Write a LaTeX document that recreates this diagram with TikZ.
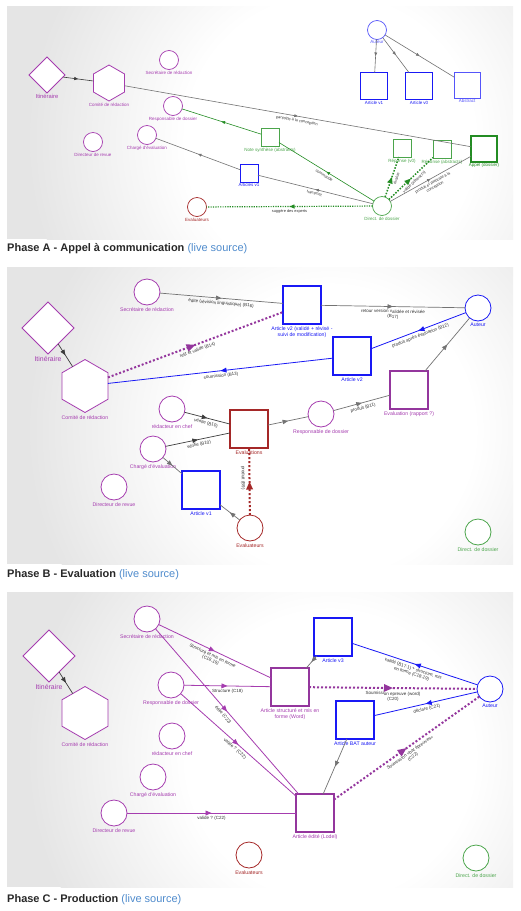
\documentclass[tikz,border=0pt]{standalone}
\usepackage{fontspec}
\setmainfont{Liberation Sans}
\usetikzlibrary{shapes.geometric,decorations.markings,arrows.meta}

\definecolor{actor}{RGB}{165,60,175}
\definecolor{docblue}{RGB}{25,25,245}
\definecolor{softblue}{RGB}{85,85,250}
\definecolor{evalred}{RGB}{165,40,40}
\definecolor{dirgreen}{RGB}{75,165,75}
\definecolor{deepgreen}{RGB}{35,140,35}
\definecolor{linkgray}{RGB}{115,115,115}
\definecolor{darkarrow}{RGB}{60,60,60}
\definecolor{captext}{RGB}{40,40,40}
\definecolor{srclink}{RGB}{80,140,205}
\definecolor{panelgray}{gray}{0.90}
\definecolor{elabel}{RGB}{50,50,50}

\pgfdeclareradialshading{panelglow}{\pgfpoint{0bp}{0bp}}{%
  color(0bp)=(white); color(12bp)=(white); color(25bp)=(panelgray); color(50bp)=(panelgray)}

\tikzset{
  nd/.style={draw, fill=white, inner sep=0pt, outer sep=0pt},
  ringA/.style={nd, circle, minimum size=19pt, line width=0.7pt},
  ringB/.style={nd, circle, minimum size=26pt, line width=0.8pt},
  boxx/.style={nd, rectangle, minimum size=#1},
  gem/.style={nd, diamond, aspect=1, minimum size=#1, draw=actor, line width=0.8pt},
  hexa/.style={nd, regular polygon, regular polygon sides=6, shape border rotate=30,
    minimum size=#1, draw=actor, line width=0.8pt},
  tagA/.style={font=\fontsize{4.5}{5.2}\selectfont, inner sep=0.3pt, label distance=1.2pt, align=center},
  tagB/.style={font=\fontsize{5.2}{6}\selectfont, inner sep=0.3pt, label distance=1.8pt, align=center},
  etA/.style={font=\fontsize{3.9}{4.4}\selectfont, text=elabel, sloped, below, inner sep=2.5pt, align=center, midway},
  etB/.style={font=\fontsize{4.5}{5}\selectfont, text=elabel, sloped, below, inner sep=2.8pt, align=center, midway},
  lnk/.style={draw=linkgray, line width=#1}, lnk/.default=0.6pt,
  dotline/.style={line width=#1, dash pattern=on #1 off #1},
  midtip/.style={postaction={decorate, decoration={markings,
    mark=at position 0.5 with {\arrow{Triangle[length=#1, width'=0pt 0.8]}}}}},
  midtip/.default=4pt,
  caption/.style={anchor=base west, inner sep=0pt, font=\fontsize{11}{13}\selectfont, text=captext},
}

\begin{document}
\begin{tikzpicture}[x=1pt,y=-1pt]
\useasboundingbox (0,0) rectangle (521,911);
\fill[white] (0,0) rectangle (521,911);

% panel backgrounds: light grey with a soft white glow
\foreach \ptop/\pbot/\cy in {6/239/140, 267/564/430, 592/887/755} {
  \begin{scope}
    \clip (7,\ptop) rectangle (513,\pbot);
    \fill[panelgray] (7,\ptop) rectangle (513,\pbot);
    \shade[shading=panelglow] (330,\cy) circle (300);
  \end{scope}
}

% ================= Phase A =================
\node[gem=36pt, label={[tagA, text=actor, font=\fontsize{5.8}{6.5}\selectfont]below:Itinéraire}] (aIti) at (47,75) {};
\node[hexa=36pt, label={[tagA, text=actor, label distance=2pt]below:Comité de rédaction}] (aCom) at (109,83) {};
\node[ringA, draw=actor, label={[tagA, text=actor]below:Secrétaire de rédaction}] (aSec) at (169,60) {};
\node[ringA, draw=actor, label={[tagA, text=actor]below:Responsable de dossier}] (aRes) at (173,106) {};
\node[ringA, draw=actor, label={[tagA, text=actor]below:Chargé d'évaluation}] (aCha) at (147,135) {};
\node[ringA, draw=actor, label={[tagA, text=actor]below:Directeur de revue}] (aDir) at (93,142) {};
\node[ringA, draw=evalred, label={[tagA, text=evalred]below:Evaluateurs}] (aEva) at (197,207) {};
\node[boxx=18pt, draw=docblue, line width=0.8pt, label={[tagA, text=docblue]below:Articles v1}] (aArt) at (249,173) {};
\node[ringA, draw=softblue, label={[tagA, text=softblue, label distance=0.3pt]below:Auteur}] (aAut) at (377,30) {};
\node[boxx=27pt, draw=docblue, line width=1.5pt, label={[tagA, text=docblue]below:Article v1}] (aV1) at (374,86) {};
\node[boxx=27pt, draw=docblue, line width=1.5pt, label={[tagA, text=docblue]below:Article v0}] (aV0) at (419,86) {};
\node[boxx=26pt, draw=softblue, line width=0.9pt, label={[tagA, text=softblue]below:Abstract}] (aAbs) at (467,85) {};
\node[boxx=18pt, draw=dirgreen, line width=0.7pt, label={[tagA, text=dirgreen]below:Note synthèse (abstracts)}] (aNote) at (270,137) {};
\node[boxx=18pt, draw=dirgreen, line width=0.7pt, label={[tagA, text=dirgreen]below:Réponse (v0)}] (aRv0) at (402,148) {};
\node[boxx=18pt, draw=dirgreen, line width=0.7pt, label={[tagA, text=dirgreen]below:Réponse (abstracts)}] (aRab) at (442,149) {};
\node[boxx=26pt, draw=deepgreen, line width=1.5pt, label={[tagA, text=deepgreen]below:Appel (dossier)}] (aApp) at (484,149) {};
\node[ringA, draw=dirgreen, label={[tagA, text=dirgreen]below:Direct. de dossier}] (aDd) at (382,206) {};

\draw[lnk, draw=darkarrow, midtip=4pt] (aIti) -- (aCom);
\draw[lnk, midtip=3.5pt] (aCom) -- node[etA]{participe à la conception} (aApp);
\draw[draw=deepgreen, line width=0.6pt, midtip=3.5pt] (aNote) -- (aRes);
\draw[draw=deepgreen, line width=0.6pt, midtip=3.5pt] (aDd) -- node[etA]{commande} (aNote);
\draw[lnk, midtip=3.5pt] (aArt) -- (aCha);
\draw[lnk, midtip=3.5pt] (aDd) -- node[etA]{transmet} (aArt);
\draw[draw=deepgreen, dotline=1.2pt, midtip=5pt] (aDd) -- node[etA]{suggère des experts} (aEva);
\draw[draw=deepgreen, dotline=1.5pt, midtip=6.5pt] (aDd) -- node[etA]{évalue} (aRv0);
\draw[draw=deepgreen, dotline=1.5pt, midtip=6.5pt] (aDd) -- node[etA]{valide (abstracts)} (aRab);
\draw[lnk, midtip=3.5pt] (aDd) -- node[etA]{produit et participe à la\\conception} (aApp);
\draw[lnk, midtip=3.5pt] (aAut) -- (aV1);
\draw[lnk, midtip=3.5pt] (aAut) -- (aV0);
\draw[lnk, midtip=3.5pt] (aAut) -- (aAbs);

\node[caption] (capA) at (7,251) {\textbf{Phase A - Appel à communication} \textcolor{srclink}{(live source)}};

% ================= Phase B =================
\node[gem=52pt, label={[tagB, text=actor, font=\fontsize{6.9}{7.5}\selectfont]below:Itinéraire}] (bIti) at (48,328) {};
\node[hexa=53pt, label={[tagB, text=actor, label distance=2.5pt]below:Comité de rédaction}] (bCom) at (85,386) {};
\node[ringB, draw=actor, label={[tagB, text=actor]below:Secrétaire de rédaction}] (bSec) at (147,292) {};
\node[ringB, draw=actor, label={[tagB, text=actor]below:rédacteur en chef}] (bRed) at (172,409) {};
\node[ringB, draw=actor, label={[tagB, text=actor]below:Chargé d'évaluation}] (bCha) at (153,449) {};
\node[ringB, draw=actor, label={[tagB, text=actor]below:Directeur de revue}] (bDir) at (114,487) {};
\node[boxx=38pt, draw=docblue, line width=1.7pt, label={[tagB, text=docblue]below:Article v1}] (bArt) at (201,490) {};
\node[boxx=38pt, draw=evalred, line width=1.7pt, label={[tagB, text=evalred]below:Evaluations}] (bEvs) at (249,429) {};
\node[ringB, draw=evalred, label={[tagB, text=evalred]below:Evaluateurs}] (bEvr) at (250,528) {};
\node[ringB, draw=actor, label={[tagB, text=actor]below:Responsable de dossier}] (bRes) at (321,414) {};
\node[boxx=38pt, draw=actor!90!black, line width=1.7pt, label={[tagB, text=actor]below:Evaluation (rapport ?)}] (bRap) at (409,390) {};
\node[ringB, draw=docblue, label={[tagB, text=docblue]below:Auteur}] (bAut) at (478,308) {};
\node[boxx=38pt, draw=docblue, line width=1.7pt, label={[tagB, text=docblue]below:Article v2}] (bV2) at (352,356) {};
\node[boxx=38pt, draw=docblue, line width=1.7pt, label={[tagB, text=docblue]below:Article v2 (validé + révisé -\\suivi de modification)}] (bV2v) at (302,305) {};
\node[ringB, draw=dirgreen, label={[tagB, text=dirgreen]below:Direct. de dossier}] (bDd) at (478,532) {};

\draw[lnk=0.7pt, draw=darkarrow, midtip=5.5pt] (bIti) -- (bCom);
\draw[lnk=0.7pt, midtip=5.5pt] (bSec) -- node[etB]{édite (révision linguistique) (B16)} (bV2v);
\draw[lnk=0.7pt, midtip=5.5pt] (bV2v) -- node[etB]{retour version validée et révisée\\(B17)} (bAut);
\draw[draw=actor!90!black, dotline=2pt, midtip=9pt] (bCom) -- node[etB]{relit et valide (B14)} (bV2v);
\draw[draw=docblue, line width=0.8pt, midtip=6pt] (bAut) -- node[etB]{produit après évaluation (B12)} (bV2);
\draw[draw=docblue, line width=0.8pt, midtip=6pt] (bV2) -- node[etB]{soumission (B13)} (bCom);
\draw[lnk=0.7pt, draw=darkarrow, midtip=5.5pt] (bRed) -- node[etB]{vérifie (B10)} (bEvs);
\draw[lnk=0.7pt, draw=darkarrow, midtip=5.5pt] (bCha) -- node[etB]{vérifie (B10)} (bEvs);
\draw[lnk=0.7pt, midtip=5.5pt] (bCha) -- (bArt);
\draw[lnk=0.7pt, midtip=5.5pt] (bEvr) -- (bArt);
\draw[draw=evalred, dotline=2pt, midtip=8pt] (bEvr) -- (bEvs);
\node[font=\fontsize{4.5}{5}\selectfont, text=elabel, rotate=-90, inner sep=0pt] (bLblB9) at (243,478) {produit (B9)};
\draw[lnk=0.7pt, midtip=5.5pt] (bEvs) -- (bRes);
\draw[lnk=0.7pt, midtip=5.5pt] (bRes) -- node[etB]{produit (B11)} (bRap);
\draw[lnk=0.7pt, midtip=5.5pt] (bRap) -- (bAut);

\node[caption] (capB) at (7,577) {\textbf{Phase B - Evaluation} \textcolor{srclink}{(live source)}};

% ================= Phase C =================
\node[gem=52pt, label={[tagB, text=actor, font=\fontsize{6.9}{7.5}\selectfont]below:Itinéraire}] (cIti) at (49,656) {};
\node[hexa=53pt, label={[tagB, text=actor, label distance=2.5pt]below:Comité de rédaction}] (cCom) at (85,713) {};
\node[ringB, draw=actor, label={[tagB, text=actor]below:Secrétaire de rédaction}] (cSec) at (147,619) {};
\node[ringB, draw=actor, label={[tagB, text=actor]below:Responsable de dossier}] (cRes) at (171,685) {};
\node[ringB, draw=actor, label={[tagB, text=actor]below:rédacteur en chef}] (cRed) at (172,736) {};
\node[ringB, draw=actor, label={[tagB, text=actor]below:Chargé d'évaluation}] (cCha) at (153,777) {};
\node[ringB, draw=actor, label={[tagB, text=actor]below:Directeur de revue}] (cDir) at (114,813) {};
\node[ringB, draw=evalred, label={[tagB, text=evalred]below:Evaluateurs}] (cEvr) at (249,855) {};
\node[boxx=38pt, draw=actor!90!black, line width=1.7pt, label={[tagB, text=actor]below:Article structuré et mis en\\forme (Word)}] (cStr) at (290,687) {};
\node[boxx=38pt, draw=docblue, line width=1.7pt, label={[tagB, text=docblue]below:Article v3}] (cV3) at (333,637) {};
\node[boxx=38pt, draw=docblue, line width=1.7pt, label={[tagB, text=docblue]below:Article BAT auteur}] (cBat) at (355,720) {};
\node[boxx=38pt, draw=actor!90!black, line width=1.7pt, label={[tagB, text=actor]below:Article édité (Lodel)}] (cEdi) at (315,813) {};
\node[ringB, draw=docblue, label={[tagB, text=docblue]below:Auteur}] (cAut) at (490,689) {};
\node[ringB, draw=dirgreen, label={[tagB, text=dirgreen]below:Direct. de dossier}] (cDd) at (476,858) {};

\draw[lnk=0.7pt, draw=darkarrow, midtip=5.5pt] (cIti) -- (cCom);
\draw[draw=actor, line width=0.8pt, midtip=6pt] (cSec) -- node[etB]{Structuré et mis en forme\\(C18-19)} (cStr);
\draw[draw=actor, line width=0.8pt, midtip=6pt] (cSec) -- node[etB]{édite (C22)} (cEdi);
\draw[draw=actor, line width=0.8pt, midtip=6pt] (cRes) -- node[etB]{Structure (C18)} (cStr);
\draw[draw=actor, line width=0.8pt, midtip=6pt] (cRes) -- node[etB]{valide ? (C22)} (cEdi);
\draw[draw=actor, line width=0.8pt, midtip=6pt] (cDir) -- node[etB]{valide ? (C22)} (cEdi);
\draw[lnk=0.7pt, midtip=5.5pt] (cV3) -- (cStr);
\draw[draw=docblue, line width=0.8pt, midtip=6pt] (cAut) -- node[etB]{validé (B17.1) + structure, mis\\en forme (C18-19)} (cV3);
\draw[draw=actor!90!black, dotline=2pt, midtip=9pt] (cStr) -- node[etB]{Soumission epreuve (word)\\(C20)} (cAut);
\draw[draw=docblue, line width=0.8pt, midtip=6pt] (cAut) -- node[etB]{déclare (C21)} (cBat);
\draw[lnk=0.7pt, midtip=5.5pt] (cBat) -- (cEdi);
\draw[draw=actor!90!black, dotline=2pt, midtip=9pt] (cEdi) -- node[etB]{Soumission «bat épreuves»\\(C22)} (cAut);

\node[caption] (capC) at (7,902) {\textbf{Phase C - Production} \textcolor{srclink}{(live source)}};

\end{tikzpicture}
\end{document}
